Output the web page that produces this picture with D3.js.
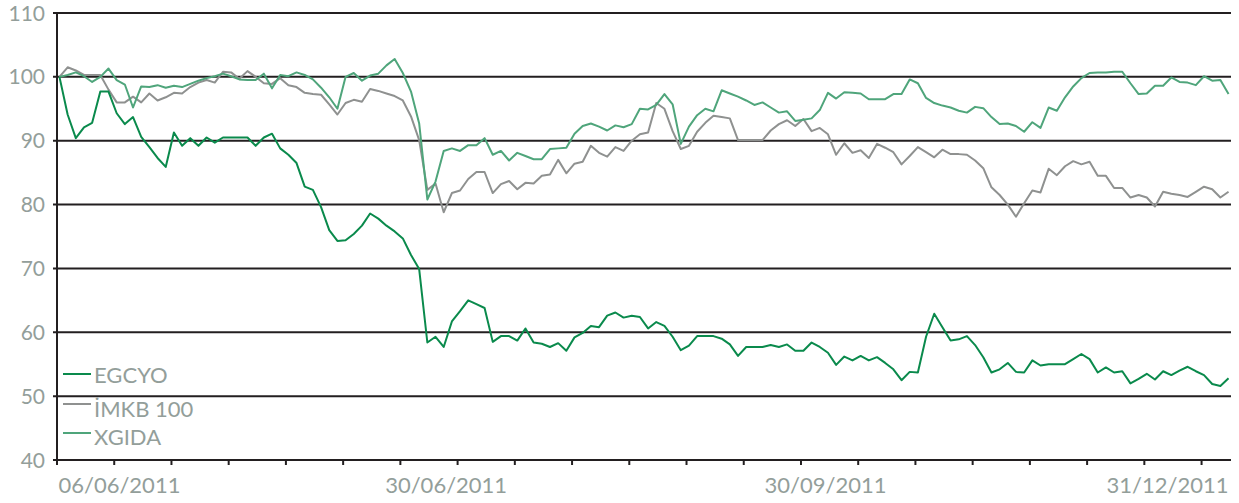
<!DOCTYPE html>
<html>
<head>
<meta charset="utf-8">
<script src="https://cdn.jsdelivr.net/npm/d3@7/dist/d3.min.js"></script>
<style>
  html, body { margin: 0; padding: 0; background: #ffffff; }
  svg { display: block; }
  text { font-family: "Lato", "Open Sans", sans-serif; font-weight: 400; }
</style>
</head>
<body>
<svg id="chart" width="1239" height="503"></svg>
<script>
// ---- data ----
const seriesNames = ["EGCYO", "İMKB 100", "XGIDA"];

const egcyo = [
  100, 94.1, 90.4, 92.1, 92.8, 97.7, 97.7, 94.3, 92.6, 93.7,
  90.6, 89.0, 87.3, 85.9, 91.3, 89.2, 90.4, 89.2, 90.5, 89.7,
  90.5, 90.5, 90.5, 90.5, 89.2, 90.5, 91.1, 88.8, 87.8, 86.5,
  82.8, 82.3, 79.6, 76.0, 74.3, 74.4, 75.4, 76.7, 78.6, 77.8,
  76.7, 75.8, 74.7, 72.1, 69.9, 58.4, 59.3, 57.7, 61.7, 63.3,
  65.0, 64.4, 63.8, 58.5, 59.4, 59.4, 58.7, 60.6, 58.4, 58.2,
  57.7, 58.3, 57.1, 59.2, 59.9, 61.0, 60.8, 62.6, 63.1, 62.3,
  62.6, 62.4, 60.6, 61.6, 61.0, 59.3, 57.2, 57.9, 59.4, 59.4,
  59.4, 59.0, 58.1, 56.3, 57.7, 57.7, 57.7, 58.0, 57.7, 58.1,
  57.1, 57.1, 58.4, 57.7, 56.8, 54.9, 56.2, 55.6, 56.3, 55.6,
  56.1, 55.2, 54.2, 52.5, 53.8, 53.7, 59.3, 62.9, 60.8, 58.7,
  58.9, 59.4, 58.0, 56.1, 53.7, 54.2, 55.2, 53.8, 53.7, 55.6,
  54.8, 55.0, 55.0, 55.0, 55.8, 56.6, 55.8, 53.7, 54.5, 53.7,
  53.9, 52.0, 52.7, 53.5, 52.6, 53.9, 53.3, 54.0, 54.6, 53.9,
  53.3, 51.9, 51.6, 52.8
];

const imkb100 = [
  100, 101.5, 101.0, 100.3, 100.3, 100.3, 98.0, 96.0, 96.0, 96.9,
  96.0, 97.4, 96.3, 96.8, 97.5, 97.4, 98.4, 99.1, 99.5, 99.1,
  100.8, 100.7, 99.7, 100.9, 100.0, 99.0, 98.9, 99.8, 98.7, 98.4,
  97.5, 97.3, 97.2, 95.7, 94.1, 95.9, 96.4, 96.1, 98.1, 97.8,
  97.4, 97.0, 96.3, 93.8, 90.1, 82.3, 83.3, 78.8, 81.8, 82.2,
  84.0, 85.1, 85.1, 81.8, 83.2, 83.7, 82.4, 83.4, 83.3, 84.5,
  84.7, 87.0, 84.9, 86.4, 86.7, 89.2, 88.1, 87.5, 89.0, 88.4,
  90.0, 91.0, 91.3, 95.9, 95.0, 91.5, 88.7, 89.2, 91.4, 92.8,
  93.9, 93.7, 93.5, 90.1, 90.1, 90.1, 90.1, 91.6, 92.6, 93.2,
  92.3, 93.4, 91.5, 92.0, 91.0, 87.8, 89.6, 88.1, 88.5, 87.3,
  89.5, 88.9, 88.2, 86.3, 87.6, 89.0, 88.2, 87.4, 88.6, 87.9,
  87.9, 87.8, 86.9, 85.7, 82.7, 81.5, 80.0, 78.1, 80.2, 82.2,
  81.9, 85.6, 84.6, 86.0, 86.8, 86.3, 86.7, 84.5, 84.5, 82.6,
  82.6, 81.1, 81.5, 81.1, 79.7, 82.0, 81.7, 81.5, 81.2, 82.0,
  82.8, 82.4, 81.1, 82.0
];

const xgida = [
  100, 100.3, 100.7, 100.1, 99.2, 100.0, 101.3, 99.5, 98.8, 95.2,
  98.5, 98.4, 98.7, 98.3, 98.6, 98.4, 98.9, 99.4, 99.8, 100.1,
  100.5, 100.1, 99.6, 99.5, 99.5, 100.5, 98.2, 100.3, 100.1, 100.7,
  100.3, 99.6, 98.3, 96.8, 95.0, 100.0, 100.6, 99.4, 100.2, 100.5,
  101.8, 102.8, 100.6, 97.7, 92.7, 80.8, 83.6, 88.4, 88.8, 88.4,
  89.3, 89.3, 90.4, 87.8, 88.4, 86.9, 88.1, 87.6, 87.1, 87.1,
  88.7, 88.8, 88.9, 91.1, 92.3, 92.7, 92.2, 91.6, 92.4, 92.1,
  92.6, 95.0, 94.9, 95.6, 97.3, 95.7, 89.5, 92.2, 94.0, 95.0,
  94.6, 97.9, 97.4, 96.9, 96.3, 95.6, 96.0, 95.2, 94.4, 94.6,
  93.1, 93.3, 93.5, 94.8, 97.5, 96.6, 97.6, 97.5, 97.4, 96.5,
  96.5, 96.5, 97.3, 97.3, 99.6, 99.0, 96.7, 95.9, 95.5, 95.2,
  94.7, 94.4, 95.3, 95.1, 93.7, 92.6, 92.7, 92.3, 91.4, 92.9,
  92.0, 95.2, 94.7, 96.8, 98.5, 99.8, 100.6, 100.7, 100.7, 100.8,
  100.8, 99.0, 97.3, 97.4, 98.6, 98.6, 99.9, 99.2, 99.1, 98.7,
  100.1, 99.4, 99.5, 97.3
];

const yTicks = [40, 50, 60, 70, 80, 90, 100, 110];
const xTickStep = 7;                       // categories between x-axis tick marks
const xLabels = ["06/06/2011", "30/06/2011", "30/09/2011", "31/12/2011"];
const xLabelIdx = [0, 47.3, 93.7, 143];    // category position of each date label

// ---- layout / style ----
const colors = ["#0a8a4c", "#8f9190", "#4fa57b"];
const labelColor = "#939e9a";
const gridColor = "#231f20";

const svg = d3.select("#chart");
const plotLeft = 57, plotRight = 1231, plotTop = 13, plotBottom = 460;
const n = egcyo.length;

const x = d3.scaleLinear().domain([-0.3, n - 1 + 0.3]).range([plotLeft, plotRight]);
const y = d3.scaleLinear().domain([40, 110]).range([plotBottom, plotTop]);

// horizontal grid lines
svg.append("g").selectAll("line")
  .data(yTicks.filter(v => v > 40))
  .join("line")
  .attr("x1", plotLeft - 4).attr("x2", plotRight)
  .attr("y1", d => y(d)).attr("y2", d => y(d))
  .attr("stroke", gridColor).attr("stroke-width", 2);

// y tick labels
svg.append("g").selectAll("text")
  .data(yTicks)
  .join("text")
  .attr("x", 45)
  .attr("y", d => y(d))
  .attr("dy", "0.36em")
  .attr("text-anchor", "end")
  .attr("font-size", 21)
  .attr("fill", labelColor)
  .text(d => d);

// lines
const lineGen = d3.line().x((d, i) => x(i)).y(d => y(d));
const allSeries = [imkb100, xgida, egcyo];
const allColors = [colors[1], colors[2], colors[0]];
svg.append("g").selectAll("path")
  .data(allSeries)
  .join("path")
  .attr("d", d => lineGen(d))
  .attr("fill", "none")
  .attr("stroke", (d, i) => allColors[i])
  .attr("stroke-width", 2)
  .attr("stroke-linejoin", "round");

// x axis line and tick marks
svg.append("line")
  .attr("x1", plotLeft - 4).attr("x2", plotRight)
  .attr("y1", y(40)).attr("y2", y(40))
  .attr("stroke", gridColor).attr("stroke-width", 2);

const xTickIdx = d3.range(-0.3, n - 1, xTickStep);
svg.append("g").selectAll("line")
  .data(xTickIdx)
  .join("line")
  .attr("x1", d => x(d)).attr("x2", d => x(d))
  .attr("y1", y(40)).attr("y2", y(40) + 5)
  .attr("stroke", gridColor).attr("stroke-width", 2);

// y axis line
svg.append("line")
  .attr("x1", plotLeft).attr("x2", plotLeft)
  .attr("y1", plotTop - 1).attr("y2", plotBottom + 5)
  .attr("stroke", gridColor).attr("stroke-width", 2);

// x labels
svg.append("g").selectAll("text")
  .data(xLabels)
  .join("text")
  .attr("x", (d, i) => i === 0 ? x(xLabelIdx[i]) - 1 : x(xLabelIdx[i]))
  .attr("y", 485)
  .attr("dy", "0.36em")
  .attr("text-anchor", (d, i) => i === 0 ? "start" : (i === xLabels.length - 1 ? "end" : "middle"))
  .attr("font-size", 22)
  .attr("fill", labelColor)
  .text(d => d);

// legend
const legendY = [374, 404, 433];
const legendTextY = [375, 409, 437];
const lg = svg.append("g");
seriesNames.forEach((name, i) => {
  lg.append("line")
    .attr("x1", 63).attr("x2", 91)
    .attr("y1", legendY[i]).attr("y2", legendY[i])
    .attr("stroke", colors[i]).attr("stroke-width", 2);
  lg.append("text")
    .attr("x", 94).attr("y", legendTextY[i])
    .attr("dy", "0.36em")
    .attr("font-size", 22)
    .attr("fill", labelColor)
    .text(name);
});
</script>
</body>
</html>
